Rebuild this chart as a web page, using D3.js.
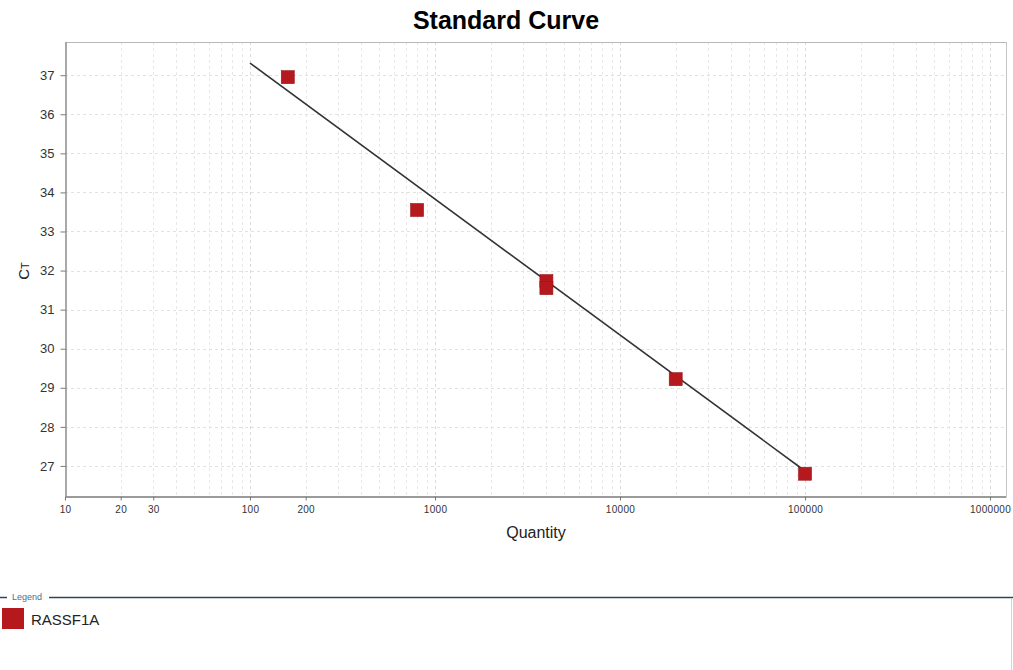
<!DOCTYPE html>
<html><head><meta charset="utf-8">
<script src="https://cdn.jsdelivr.net/npm/d3@7"></script>
<style>body{margin:0;background:#fff;} svg{display:block;font-family:"Liberation Sans",Arial,sans-serif}</style>
</head><body><svg id="c" width="1013" height="670"></svg>
<script>
// ---- data ----
const quantities = [160, 800, 4000, 4000, 20000, 100000];
const ctValues = [36.95, 33.55, 31.73, 31.55, 29.22, 26.80];
const fitQuantities = [100, 100000];
const fitCt = [37.31, 26.87];
const xTickValues = [10, 20, 30, 100, 200, 1000, 10000, 100000, 1000000];
const yTickValues = [27, 28, 29, 30, 31, 32, 33, 34, 35, 36, 37];
const seriesName = "RASSF1A";
const titleText = "Standard Curve";
const xLabel = "Quantity";

// ---- layout ----
const svg = d3.select("#c");
const L = 65, R = 1006, T = 42, B = 496;
const x = d3.scaleLog().domain([10, 1.22e6]).range([L, R]);
const y = d3.scaleLinear().domain([26.23, 37.85]).range([B, T]);
const red = "#b5191e";

// grid: vertical at every log minor tick
const gridX = [];
for (let e = 1; e <= 6; e++) for (let m = 1; m <= 9; m++) {
  const v = m * Math.pow(10, e);
  if (v > 10 && v < 1.22e6) gridX.push(v);
}
const g = svg.append("g");
g.selectAll("line.vx").data(gridX).enter().append("line")
  .attr("x1", d => Math.round(x(d)) + 0.5).attr("x2", d => Math.round(x(d)) + 0.5)
  .attr("y1", T).attr("y2", B)
  .attr("stroke", d => (Math.abs(Math.log10(d) % 1) < 1e-9) ? "#dadada" : "#e8e8e8")
  .attr("stroke-dasharray", "3,3");
g.selectAll("line.hy").data(yTickValues).enter().append("line")
  .attr("x1", L).attr("x2", R)
  .attr("y1", d => Math.round(y(d)) + 0.5).attr("y2", d => Math.round(y(d)) + 0.5)
  .attr("stroke", "#e2e2e2").attr("stroke-dasharray", "3,3");

// frame
svg.append("line").attr("x1", L).attr("x2", R + 0.5).attr("y1", T + 0.5).attr("y2", T + 0.5).attr("stroke", "#b8b8b8");
svg.append("line").attr("x1", R + 0.5).attr("x2", R + 0.5).attr("y1", T).attr("y2", B).attr("stroke", "#c4c4c4");

// axes
const xAxis = d3.axisBottom(x).tickValues(xTickValues).tickFormat(d3.format("d")).tickSize(4).tickSizeOuter(0);
const xa = svg.append("g").attr("transform", `translate(0,${B + 0.5})`).call(xAxis);
xa.select(".domain").attr("stroke", "#7a7a7a").attr("stroke-width", 1.3);
xa.selectAll(".tick line").attr("stroke", "#7a7a7a");
xa.selectAll(".tick text").attr("font-size", 10).attr("fill", "#333").attr("dy", "0.95em")
  .attr("font-family", "'Liberation Sans',Arial,sans-serif").attr("letter-spacing", "0.3");

const yAxis = d3.axisLeft(y).tickValues(yTickValues).tickFormat(d3.format("d")).tickSize(5).tickSizeOuter(0);
const ya = svg.append("g").attr("transform", `translate(${L + 0.5},0)`).call(yAxis);
ya.select(".domain").attr("stroke", "#7a7a7a").attr("stroke-width", 1.3);
ya.selectAll(".tick line").attr("stroke", "#7a7a7a");
ya.selectAll(".tick text").attr("font-size", 13).attr("fill", "#333").attr("x", -11)
  .attr("font-family", "'Liberation Sans',Arial,sans-serif");

// fit line
const fit = fitQuantities.map((q, i) => [q, fitCt[i]]);
svg.append("path").datum(fit)
  .attr("d", d3.line().x(d => x(d[0])).y(d => y(d[1])))
  .attr("stroke", "#333").attr("stroke-width", 1.6).attr("fill", "none");

// points
const pts = quantities.map((q, i) => [q, ctValues[i]]);
const s = 13;
svg.selectAll("rect.pt").data(pts).enter().append("rect")
  .attr("x", d => x(d[0]) - s / 2).attr("y", d => y(d[1]) - s / 2)
  .attr("width", s).attr("height", s)
  .attr("fill", red).attr("stroke", "#9a1418").attr("stroke-width", 0.6);

// title
svg.append("text").attr("x", 506).attr("y", 29).attr("text-anchor", "middle")
  .attr("font-size", 25).attr("font-weight", "bold").attr("fill", "#000").text(titleText);

// axis labels
svg.append("text").attr("x", 536).attr("y", 538).attr("text-anchor", "middle")
  .attr("font-size", 16).attr("fill", "#222").text(xLabel);
const yl = svg.append("text").attr("transform", "translate(29,271) rotate(-90)")
  .attr("text-anchor", "middle").attr("fill", "#222");
yl.append("tspan").attr("font-size", 15).text("C");
yl.append("tspan").attr("font-size", 11).text("T");

// legend box
svg.append("line").attr("x1", 0).attr("x2", 7).attr("y1", 597.5).attr("y2", 597.5).attr("stroke", "#2f4656").attr("stroke-width", 1.5);
svg.append("line").attr("x1", 49).attr("x2", 1013).attr("y1", 597.5).attr("y2", 597.5).attr("stroke", "#2f4656").attr("stroke-width", 1.5);
svg.append("line").attr("x1", 1011.5).attr("x2", 1011.5).attr("y1", 598).attr("y2", 670).attr("stroke", "#d0d6dc");
svg.append("text").attr("x", 12).attr("y", 600).attr("font-size", 9).attr("fill", "#4e6e8e").text("Legend");
svg.append("rect").attr("x", 2).attr("y", 608).attr("width", 22).attr("height", 21).attr("fill", red);
svg.append("text").attr("x", 31).attr("y", 625).attr("font-size", 15).attr("fill", "#222").text(seriesName);
</script>
</body></html>
